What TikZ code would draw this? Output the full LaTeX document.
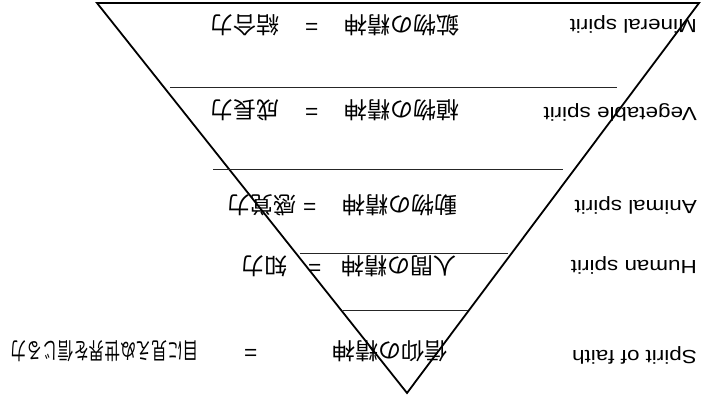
\documentclass[tikz,border=0pt]{standalone}
\usepackage{fontspec}
\setmainfont{Liberation Sans}
\newfontfamily\jpfont{Noto Sans CJK JP}
\newcommand{\widetext}[1]{\scalebox{1.18}[1]{#1}}
\begin{document}
\begin{tikzpicture}[x=1pt,y=-1pt,
  edge/.style={line width=1.8pt, line join=miter},
  sep/.style={line width=0.9pt, black!85},
  en/.style={rotate=180, anchor=base west, inner sep=0pt, font=\fontsize{19}{19}\selectfont},
  jp/.style={rotate=180, anchor=west, inner sep=0pt, font=\jpfont\fontsize{23}{23}\selectfont},
  eq/.style={rotate=180, anchor=center, inner sep=0pt, font=\jpfont\fontsize{23}{23}\selectfont},
]
\useasboundingbox (0,0) rectangle (703,404);
\fill[white] (0,0) rectangle (703,404);
\coordinate (tl) at (97,3);
\coordinate (tr) at (699,3);
\coordinate (ap) at (407,393);
\draw[edge] (tl) -- (tr) -- (ap) -- cycle;
% separators
\coordinate (s1l) at (170,87);  \coordinate (s1r) at (617,87);
\coordinate (s2l) at (213,169); \coordinate (s2r) at (563,169);
\coordinate (s3l) at (300,253); \coordinate (s3r) at (508,253);
\coordinate (s4l) at (343,310); \coordinate (s4r) at (468,310);
\draw[sep] (s1l) -- (s1r);
\draw[sep] (s2l) -- (s2r);
\draw[sep] (s3l) -- (s3r);
\draw[sep] (s4l) -- (s4r);
% English labels
\node[en] (e1) at (697,20) {\widetext{Mineral spirit}};
\node[en] (e2) at (697,107) {\widetext{Vegetable spirit}};
\node[en] (e3) at (697,200) {\widetext{Animal spirit}};
\node[en] (e4) at (697,260) {\widetext{Human spirit}};
\node[en] (e5) at (697,350) {\widetext{Spirit of faith}};
% Japanese labels
\node[jp] (j1a) at (460,25) {鉱物の精神};
\node[eq] (j1e) at (312,25) {=};
\node[jp] (j1b) at (280,25) {結合力};
\node[jp] (j2a) at (460,110) {植物の精神};
\node[eq] (j2e) at (312,110) {=};
\node[jp] (j2b) at (280,110) {成長力};
\node[jp] (j3a) at (458,205) {動物の精神};
\node[eq] (j3e) at (310,205) {=};
\node[jp] (j3b) at (297,205) {感覚力};
\node[jp] (j4a) at (457,266) {人間の精神};
\node[eq] (j4e) at (315,266) {=};
\node[jp] (j4b) at (288,266) {知力};
\node[jp] (j5a) at (448,351) {信仰の精神};
\node[eq] (j5e) at (251,351) {=};
\node[jp] (j5b) at (199,351) {\scalebox{0.68}[1]{目に見えぬ世界を信じる力}};
\end{tikzpicture}
\end{document}
